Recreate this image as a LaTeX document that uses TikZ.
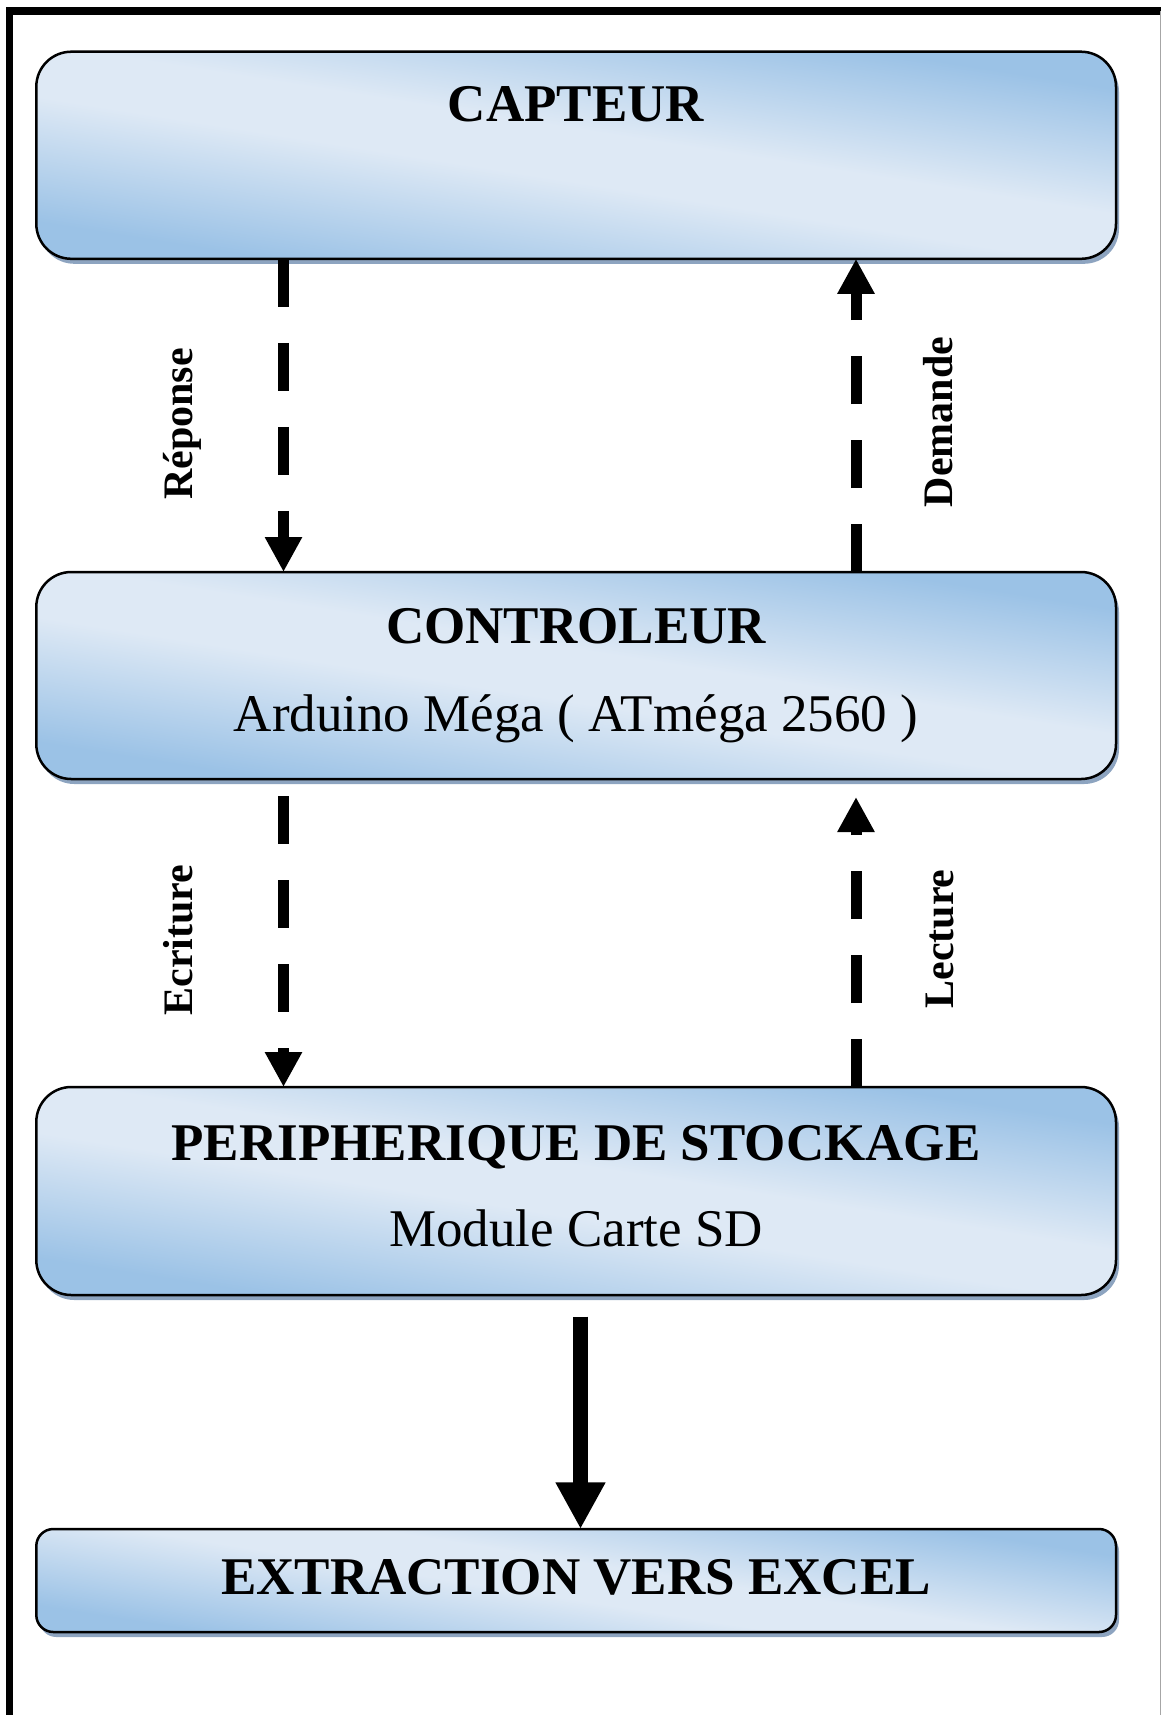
\documentclass[tikz,border=0pt]{standalone}
\usepackage{fontspec}
\setmainfont{Liberation Serif}
\usetikzlibrary{arrows.meta,shadows,calc}
\definecolor{dk}{RGB}{155,194,230}
\definecolor{lt}{RGB}{222,233,245}
\definecolor{shadowc}{RGB}{141,164,192}
\pgfdeclareverticalshading{boxshade}{100bp}{color(0bp)=(dk); color(27bp)=(dk); color(46bp)=(lt); color(54bp)=(lt); color(73bp)=(dk); color(100bp)=(dk)}
\begin{document}
\begin{tikzpicture}[x=0.5pt,y=-0.5pt,
  box/.style={draw=black, line width=1.25pt, rounded corners=17.5pt,
    minimum width=539.85pt, inner sep=0pt, outer sep=0pt,
    shade, shading=boxshade, shading angle=-9,
    drop shadow={shadow xshift=1.5pt, shadow yshift=-2.5pt, fill=shadowc, opacity=1}},
  title/.style={font=\fontsize{26.5pt}{30pt}\selectfont\bfseries, inner sep=0pt, anchor=base},
  sub/.style={font=\fontsize{26.5pt}{30pt}\selectfont, inner sep=0pt, anchor=base},
  lbl/.style={font=\fontsize{21pt}{24pt}\selectfont\bfseries, inner sep=0pt, anchor=base, rotate=90},
  dasharrow/.style={line width=5.5pt, dash pattern=on 24pt off 18pt,
    -{Triangle[length=17.5pt,width=17.5pt]}},
  bigarrow/.style={line width=7.8pt, -{Triangle[length=23.3pt,width=23.3pt]}}
]
\useasboundingbox (0,0) rectangle (1161,1715);
% page frame
\draw[line width=3.7pt, line join=miter] (9.7,1715) -- (9.7,11) -- (1161,11);
\draw[black!35, line width=0.5pt] (1160,11) -- (1160,1715);

% boxes
\node[box, minimum height=103.55pt] (capteur) at (576.15,155.25) {};
\node[box, minimum height=103.5pt] (controleur) at (576.15,675.5) {};
\node[box, minimum height=104pt] (periph) at (576.15,1191) {};
\node[box, minimum height=51.5pt, rounded corners=8.5pt] (extraction) at (576.15,1580.5) {};

% texts
\node[title] (tcap) at (576,121) {CAPTEUR};
\node[title] (tctl) at (576,643) {CONTROLEUR};
\node[sub] (tard) at (576,731) {Arduino Méga ( ATméga 2560 )};
\node[title] (tper) at (576,1160) {PERIPHERIQUE DE STOCKAGE};
\node[sub] (tmod) at (576,1246) {Module Carte SD};
\node[title] (text) at (576,1594) {EXTRACTION VERS EXCEL};

% connector x positions
\coordinate (xl) at (283.5,0);
\coordinate (xr) at (856,0);
\coordinate (xm) at (580.5,0);

% connectors
\draw[dasharrow] (capteur.south -| xl) -- (controleur.north -| xl);
\draw[dasharrow] (controleur.north -| xr) -- (capteur.south -| xr);
\draw[dasharrow] ([yshift=-8.5pt]controleur.south -| xl) -- (periph.north -| xl);
\draw[dasharrow] (periph.north -| xr) -- ([yshift=-9pt]controleur.south -| xr);
\draw[bigarrow] ([yshift=-10.85pt]periph.south -| xm) -- (extraction.north -| xm);

% labels
\node[lbl] (lrep) at (192,424) {Réponse};
\node[lbl] (ldem) at (952,422) {Demande};
\node[lbl] (lecr) at (192,940) {Ecriture};
\node[lbl] (llec) at (953,939) {Lecture};
\end{tikzpicture}
\end{document}
